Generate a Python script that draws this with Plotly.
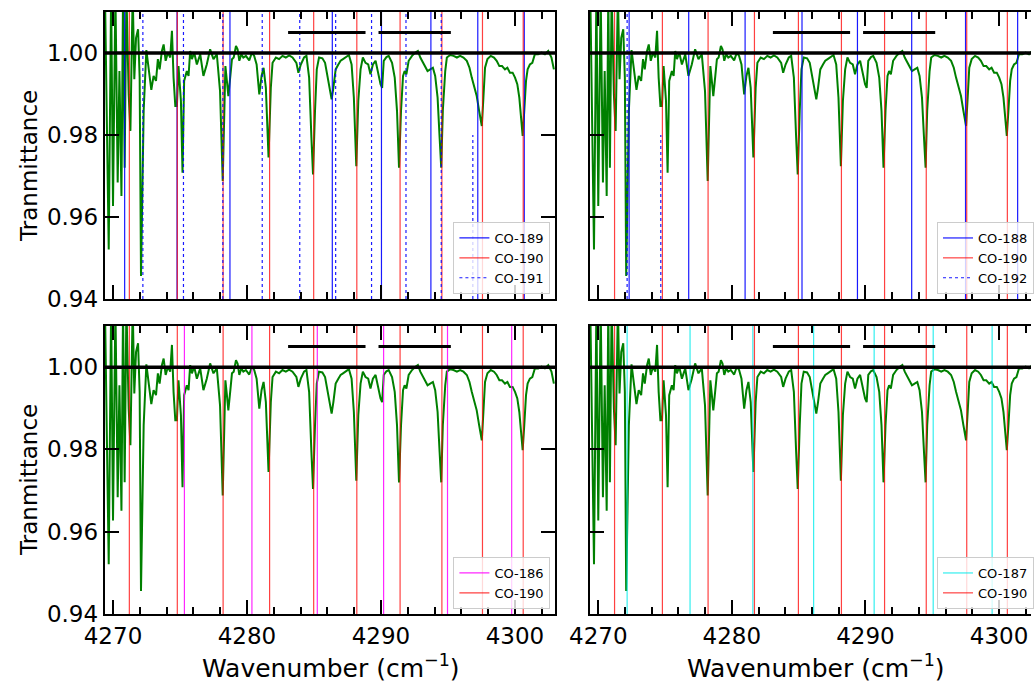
import plotly.graph_objects as go

# ---------------- data ----------------
wavenumber = [
    4269.40, 4269.51, 4269.68, 4269.86, 4270.00, 4270.18, 4270.35, 4270.48, 4270.63, 4270.75,
    4270.87, 4271.00, 4271.17, 4271.30, 4271.47, 4271.59, 4271.72, 4271.87, 4271.99, 4272.09,
    4272.29, 4272.49, 4272.66, 4272.86, 4273.03, 4273.21, 4273.35, 4273.48, 4273.65, 4273.78,
    4273.93, 4274.10, 4274.27, 4274.40, 4274.52, 4274.65, 4274.77, 4274.89, 4275.07, 4275.19,
    4275.31, 4275.51, 4275.64, 4275.76, 4275.89, 4276.06, 4276.26, 4276.51, 4276.75, 4277.00,
    4277.25, 4277.50, 4277.75, 4277.99, 4278.19,
    4278.39, 4278.49, 4278.61, 4278.76, 4278.88, 4279.01, 4279.18, 4279.30, 4279.43, 4279.58,
    4279.73, 4279.92, 4280.17, 4280.37, 4280.54, 4280.72, 4280.92, 4281.09, 4281.24, 4281.41,
    4281.61, 4281.78, 4281.91, 4282.16, 4282.40, 4282.65, 4282.90, 4283.15, 4283.40, 4283.69,
    4283.84, 4284.02, 4284.26, 4284.44, 4284.64, 4284.81, 4284.93, 4285.08, 4285.21, 4285.38,
    4285.63, 4285.83, 4286.00, 4286.17, 4286.32, 4286.45, 4286.62, 4286.82, 4286.99, 4287.17,
    4287.36, 4287.61, 4287.81, 4287.98, 4288.16, 4288.31, 4288.48, 4288.65, 4288.85, 4289.05,
    4289.22, 4289.40, 4289.60, 4289.79, 4289.97, 4290.09,
    4290.21, 4290.41, 4290.58, 4290.83, 4291.03, 4291.20, 4291.35, 4291.50, 4291.65, 4291.77,
    4291.90, 4292.07, 4292.32, 4292.57, 4292.76, 4292.94, 4293.14, 4293.31, 4293.48, 4293.68,
    4293.88, 4294.05, 4294.23, 4294.38, 4294.50, 4294.62, 4294.80, 4294.92, 4295.17, 4295.42,
    4295.67, 4295.91, 4296.16, 4296.41, 4296.61, 4296.78, 4296.96, 4297.15, 4297.33, 4297.53,
    4297.65, 4297.77, 4297.95, 4298.20, 4298.44, 4298.64, 4298.84, 4299.04, 4299.26, 4299.44,
    4299.63, 4299.83, 4300.01, 4300.18, 4300.33, 4300.45, 4300.58, 4300.70, 4300.83, 4300.95,
    4301.12, 4301.30, 4301.49, 4301.74, 4301.99, 4302.24, 4302.49, 4302.73, 4302.91,
]
transmittance = [
    1.015, 0.9859, 0.9521, 1.015, 0.9627, 1.015, 0.9684, 0.9956, 0.9651, 1.015,
    0.9720, 1.015, 0.9899, 0.9810, 1.015, 0.9936, 1.0037, 1.0058, 0.9940, 0.9456,
    0.9859, 1.0007, 0.9964, 0.9910, 0.9944, 0.9932, 0.9985, 0.9960, 1.0005, 1.0021,
    0.9981, 1.0001, 0.9989, 1.0054, 0.9940, 0.9871, 0.9871, 0.9968, 0.9883, 0.9708,
    0.9932, 0.9956, 0.9944, 1.0005, 0.9985, 1.0001, 0.9972, 0.9997, 0.9944, 0.9972,
    1.0009, 0.9985, 0.9997, 0.9907, 0.9688,
    0.9968, 0.9936, 0.9895, 0.9944, 0.9985, 0.9989, 1.0017, 1.0009, 0.9981, 0.9997,
    0.9989, 0.9993, 0.9982, 1.0001, 0.9993, 0.9972, 0.9899, 0.9944, 0.9964, 0.9915,
    0.9745, 0.9915, 0.9976, 0.9989, 0.9985, 0.9993, 0.9989, 0.9994, 0.9989, 0.9976,
    0.9952, 0.9972, 0.9989, 0.9993, 0.9940, 0.9794, 0.9704, 0.9859, 0.9960, 0.9989,
    0.9987, 0.9976, 0.9948, 0.9915, 0.9887, 0.9915, 0.9960, 0.9972, 0.9981, 0.9985,
    0.9990, 0.9995, 0.9972, 0.9891, 0.9724, 0.9883, 0.9960, 0.9989, 0.9976, 0.9972,
    0.9948, 0.9972, 0.9981, 0.9952, 0.9924, 0.9915,
    0.9981, 0.9990, 0.9993, 0.9976, 0.9940, 0.9859, 0.9720, 0.9859, 0.9944, 0.9956,
    0.9948, 0.9981, 0.9993, 1.0001, 1.0005, 0.9989, 0.9976, 0.9968, 0.9956, 0.9960,
    0.9964, 0.9944, 0.9891, 0.9794, 0.9720, 0.9859, 0.9956, 0.9989, 0.9995, 0.9993,
    0.9989, 0.9993, 0.9989, 0.9981, 0.9964, 0.9940, 0.9920, 0.9895, 0.9859, 0.9822,
    0.9891, 0.9964, 0.9985, 0.9993, 0.9989, 0.9981, 0.9968, 0.9968, 0.9960, 0.9964,
    0.9952, 0.9952, 0.9940, 0.9924, 0.9891, 0.9850, 0.9798, 0.9859, 0.9932, 0.9960,
    0.9972, 0.9976, 0.9997, 0.9997, 1.0001, 0.9997, 1.0005, 0.9989, 0.9960,
]

# line positions (cm^-1) of the isotopologue bands
co186 = [4275.33, 4280.37, 4285.25, 4290.20, 4294.97, 4299.76]
co187 = [4272.16, 4276.87, 4281.57, 4286.12, 4290.65, 4295.07, 4299.48]
co188 = [4272.31, 4276.77, 4280.99, 4285.25, 4289.40, 4293.46, 4297.49, 4301.39]
co189 = [4270.87, 4274.78, 4278.73, 4286.37, 4290.04, 4293.73, 4297.23, 4300.70]
co190 = [4271.22, 4274.80, 4278.22, 4281.69, 4284.98, 4288.20, 4291.43, 4294.55, 4297.58, 4300.62]
co191 = [4272.23, 4275.26, 4278.20, 4281.14, 4283.94, 4286.62, 4289.30, 4291.87, 4294.50, 4296.86]
co191_top = [1.01, 1.01, 1.01, 1.01, 1.01, 1.01, 1.01, 1.01, 1.01, 0.98]
co192 = [4272.16, 4274.68]
co192_top = [1.01, 0.98]

continuum_level = 1.0
bar_start = [4283.07, 4289.82]
bar_end = [4288.85, 4295.22]
bar_level = 1.005

X_RANGE_LEFT = [4269.38, 4303.0]
X_RANGE_RIGHT = [4269.38, 4302.39]
Y_RANGE = [0.94, 1.01]

FONT = "DejaVu Sans"
RED = "rgba(255,0,0,0.75)"
BLUE = "rgba(0,0,255,0.9)"
MAGENTA = "rgba(255,0,255,0.85)"
CYAN = "rgba(0,235,235,0.8)"

fig = go.Figure()


def vlines(values, tops=None):
    xs, ys = [], []
    for i, v in enumerate(values):
        top = tops[i] if tops is not None else Y_RANGE[1]
        xs += [v, v, None]
        ys += [Y_RANGE[0], top, None]
    return xs, ys


panels = [
    ("x", "y", "legend", [("CO-189", co189, None, BLUE, "solid"),
                          ("CO-190", co190, None, RED, "solid"),
                          ("CO-191", co191, co191_top, BLUE, "dot")]),
    ("x2", "y2", "legend2", [("CO-188", co188, None, BLUE, "solid"),
                             ("CO-190", co190, None, RED, "solid"),
                             ("CO-192", co192, co192_top, BLUE, "dot")]),
    ("x3", "y3", "legend3", [("CO-186", co186, None, MAGENTA, "solid"),
                             ("CO-190", co190, None, RED, "solid")]),
    ("x4", "y4", "legend4", [("CO-187", co187, None, CYAN, "solid"),
                             ("CO-190", co190, None, RED, "solid")]),
]

for xa, ya, leg, series in panels:
    fig.add_trace(go.Scatter(x=wavenumber, y=transmittance, mode="lines",
                             line=dict(color="green", width=2), xaxis=xa, yaxis=ya,
                             showlegend=False, hoverinfo="skip"))
    for name, vals, tops, color, dash in series:
        xs, ys = vlines(vals, tops)
        fig.add_trace(go.Scatter(x=xs, y=ys, mode="lines", name=name,
                                 line=dict(color=color, width=1.2, dash=dash),
                                 xaxis=xa, yaxis=ya, legend=leg))
    bx, by = [], []
    for s, e in zip(bar_start, bar_end):
        bx += [s, e, None]
        by += [bar_level, bar_level, None]
    fig.add_trace(go.Scatter(x=bx, y=by, mode="lines", line=dict(color="black", width=3),
                             xaxis=xa, yaxis=ya, showlegend=False, hoverinfo="skip"))
    xref = "x domain" if xa == "x" else xa + " domain"
    fig.add_shape(type="line", xref=xref, yref=ya, x0=0, x1=1,
                  y0=continuum_level, y1=continuum_level,
                  line=dict(color="black", width=3.5), layer="above")

W, H = 1034, 684
L_DOM = [105 / W, 556.7 / W]
R_DOM = [591.7 / W, 1.0]
TOP_DOM = [1 - 299 / H, 1 - 12 / H]
BOT_DOM = [1 - 614 / H, 1 - 326 / H]

tickfont = dict(family=FONT, size=23, color="black")


def xaxis(domain, rng, anchor, labels):
    return dict(domain=domain, range=rng, anchor=anchor, showline=True, linecolor="black",
                linewidth=2, mirror="allticks", ticks="inside", ticklen=14, tickwidth=2,
                tickcolor="black", tick0=4270, dtick=10, showticklabels=labels,
                minor=dict(ticks="inside", dtick=2, tick0=4270, ticklen=7, tickwidth=1.5,
                           tickcolor="black", showgrid=False),
                showgrid=False, zeroline=False, tickfont=tickfont, automargin=False)


def yaxis(domain, anchor, labels, mirror):
    return dict(domain=domain, range=Y_RANGE, anchor=anchor, showline=True, linecolor="black",
                linewidth=2, mirror=mirror, ticks="inside", ticklen=14, tickwidth=2,
                tickcolor="black", tick0=0.94, dtick=0.02, tickformat=".2f",
                showticklabels=labels, showgrid=False, zeroline=False, tickfont=tickfont,
                automargin=False)


legend_style = dict(bgcolor="rgba(255,255,255,0.8)", bordercolor="#cccccc", borderwidth=1,
                    font=dict(family=FONT, size=13, color="black"), traceorder="normal",
                    itemwidth=30)

fig.update_layout(
    width=W, height=H, margin=dict(l=0, r=0, t=0, b=0),
    paper_bgcolor="white", plot_bgcolor="white",
    font=dict(family=FONT, color="black"),
    xaxis=xaxis(L_DOM, X_RANGE_LEFT, "y", False),
    yaxis=yaxis(TOP_DOM, "x", True, "allticks"),
    xaxis2=xaxis(R_DOM, X_RANGE_RIGHT, "y2", False),
    yaxis2=yaxis(TOP_DOM, "x2", False, False),
    xaxis3=xaxis(L_DOM, X_RANGE_LEFT, "y3", True),
    yaxis3=yaxis(BOT_DOM, "x3", True, "allticks"),
    xaxis4=xaxis(R_DOM, X_RANGE_RIGHT, "y4", True),
    yaxis4=yaxis(BOT_DOM, "x4", False, False),
    legend=dict(x=552 / W, y=1 - 294 / H, xanchor="right", yanchor="bottom", **legend_style),
    legend2=dict(x=940 / W, y=1 - 294 / H, xanchor="left", yanchor="bottom", **legend_style),
    legend3=dict(x=552 / W, y=1 - 609 / H, xanchor="right", yanchor="bottom", **legend_style),
    legend4=dict(x=940 / W, y=1 - 609 / H, xanchor="left", yanchor="bottom", **legend_style),
    showlegend=True,
)

ytitle_font = dict(family=FONT, size=23, color="black")
xtitle_font = dict(family=FONT, size=25, color="black")
for yc in [166, 480]:
    fig.add_annotation(text="Tranmittance", xref="paper", yref="paper", x=29 / W, y=1 - yc / H,
                       textangle=-90, showarrow=False, font=ytitle_font,
                       xanchor="center", yanchor="middle")
for xc in [332, 818]:
    fig.add_annotation(text="Wavenumber (cm<sup>\u22121</sup>)", xref="paper", yref="paper",
                       x=xc / W, y=1 - 666 / H, showarrow=False, font=xtitle_font,
                       xanchor="center", yanchor="middle")

fig.write_html("out.html", config={"displayModeBar": False},
               post_script="document.body.style.margin='0';document.body.style.overflow='hidden';")
